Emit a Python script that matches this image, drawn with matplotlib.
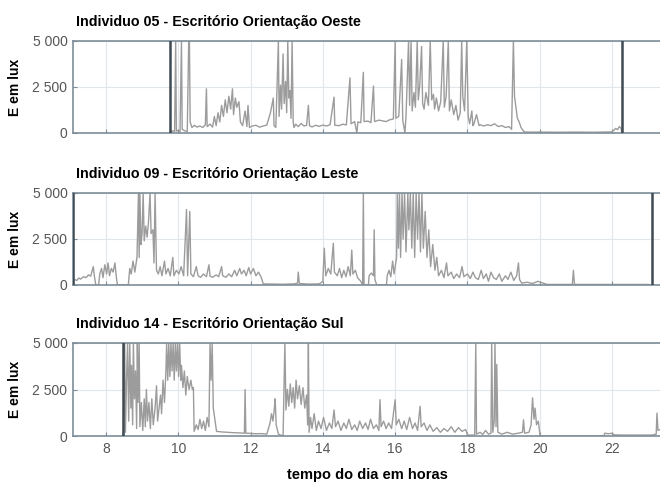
import matplotlib
matplotlib.use("Agg")
import matplotlib.pyplot as plt
from matplotlib.ticker import FuncFormatter

plt.rcParams['font.family'] = ['Liberation Sans', 'DejaVu Sans']

# (hora, lux)
ind05 = [(9.77, 0), (9.80, 60), (9.85, 120), (9.90, 80), (9.93, 5000), (9.95, 100),
         (10.00, 150), (10.05, 60), (10.09, 5000), (10.11, 200), (10.18, 120), (10.25, 80),
         (10.29, 5000), (10.31, 5000), (10.33, 600), (10.38, 300), (10.45, 420), (10.52, 320),
         (10.60, 380), (10.68, 300), (10.75, 450), (10.78, 2400), (10.80, 350), (10.88, 480),
         (10.95, 320), (11.00, 900), (11.05, 400), (11.10, 1100), (11.15, 600), (11.20, 1500),
         (11.25, 900), (11.30, 1800), (11.35, 1100), (11.40, 2000), (11.45, 1300), (11.50, 2400),
         (11.53, 1000), (11.58, 1900), (11.62, 1400), (11.68, 1700), (11.72, 600), (11.78, 400),
         (11.85, 1200), (11.90, 350), (11.93, 1500), (11.97, 300), (12.05, 380), (12.15, 420),
         (12.25, 320), (12.35, 380), (12.45, 430), (12.55, 1100), (12.63, 1900), (12.65, 400),
         (12.70, 300), (12.77, 5000), (12.79, 900), (12.83, 2600), (12.86, 1300), (12.90, 4300),
         (12.93, 1600), (12.97, 2800), (13.00, 1100), (13.03, 5000), (13.06, 1900), (13.09, 2300),
         (13.12, 800), (13.15, 5000), (13.18, 600), (13.20, 300), (13.25, 480), (13.32, 350),
         (13.40, 520), (13.48, 380), (13.55, 420), (13.60, 1500), (13.63, 400), (13.70, 330),
         (13.80, 420), (13.90, 360), (14.00, 430), (14.10, 380), (14.20, 450), (14.31, 1950),
         (14.33, 420), (14.45, 400), (14.55, 480), (14.65, 440), (14.75, 3000), (14.78, 500),
         (14.88, 620), (14.94, 0), (14.97, 600), (15.05, 560), (15.12, 3300), (15.14, 620),
         (15.25, 650), (15.33, 560), (15.40, 2550), (15.43, 620), (15.55, 700), (15.65, 660),
         (15.75, 620), (15.85, 720), (15.95, 760), (16.00, 5000), (16.02, 800), (16.10, 900),
         (16.18, 4000), (16.21, 700), (16.27, 0), (16.30, 900), (16.37, 5000), (16.40, 1500),
         (16.44, 5000), (16.47, 1200), (16.52, 2200), (16.56, 1400), (16.61, 5000), (16.64, 1800),
         (16.68, 2600), (16.73, 4700), (16.76, 1600), (16.80, 1300), (16.85, 2200), (16.92, 1500),
         (16.97, 5000), (17.01, 1800), (17.06, 2100), (17.09, 1300), (17.14, 1900), (17.20, 1200),
         (17.26, 1700), (17.33, 5000), (17.36, 1400), (17.41, 2000), (17.47, 5000), (17.50, 1200),
         (17.55, 1800), (17.62, 1000), (17.68, 1500), (17.74, 700), (17.80, 1100), (17.84, 5000),
         (17.87, 2000), (17.92, 1200), (17.98, 5000), (18.02, 900), (18.06, 500), (18.12, 1200),
         (18.15, 400), (18.18, 500), (18.25, 1000), (18.32, 400), (18.35, 450), (18.45, 380),
         (18.55, 450), (18.65, 400), (18.75, 500), (18.85, 350), (18.95, 400), (19.05, 300),
         (19.15, 350), (19.22, 200), (19.27, 5000), (19.30, 2000), (19.34, 1400), (19.38, 800),
         (19.43, 600), (19.48, 300), (19.55, 100), (19.60, 50), (20.00, 50), (20.50, 40),
         (21.00, 50), (21.50, 40), (22.00, 60), (22.05, 150), (22.10, 250), (22.15, 180),
         (22.20, 350), (22.25, 250), (22.27, 0)]

ind09 = [(7.10, 0), (7.13, 300), (7.20, 250), (7.25, 380), (7.30, 320), (7.38, 450),
         (7.45, 400), (7.52, 550), (7.58, 480), (7.65, 1000), (7.68, 500), (7.72, 0),
         (7.80, 0), (7.83, 600), (7.88, 900), (7.92, 400), (7.97, 1100), (8.02, 600),
         (8.06, 1200), (8.10, 500), (8.15, 900), (8.20, 700), (8.25, 1200), (8.29, 400),
         (8.32, 0), (8.62, 0), (8.66, 900), (8.70, 600), (8.75, 1300), (8.80, 700),
         (8.86, 1500), (8.90, 5000), (8.92, 1500), (8.94, 5000), (8.97, 2200), (9.00, 2800),
         (9.03, 5000), (9.06, 2400), (9.10, 3200), (9.14, 2600), (9.18, 3500), (9.22, 5000),
         (9.25, 2800), (9.30, 3000), (9.33, 1200), (9.36, 5000), (9.40, 800), (9.45, 600),
         (9.50, 1000), (9.55, 500), (9.62, 1300), (9.66, 600), (9.72, 900), (9.78, 500),
         (9.85, 1500), (9.88, 500), (9.95, 800), (10.02, 600), (10.08, 1000), (10.15, 500),
         (10.23, 4100), (10.26, 500), (10.32, 4000), (10.35, 600), (10.42, 450), (10.50, 1000),
         (10.55, 500), (10.62, 420), (10.70, 600), (10.78, 450), (10.85, 1100), (10.88, 480),
         (10.95, 420), (11.05, 550), (11.12, 450), (11.20, 1000), (11.23, 500), (11.32, 420),
         (11.40, 600), (11.48, 450), (11.56, 800), (11.62, 500), (11.70, 900), (11.75, 600),
         (11.82, 800), (11.88, 500), (11.95, 950), (12.00, 600), (12.08, 900), (12.15, 500),
         (12.22, 700), (12.30, 400), (12.35, 60), (12.60, 50), (12.90, 40), (13.20, 60),
         (13.30, 100), (13.32, 700), (13.35, 80), (13.60, 50), (13.90, 60), (14.00, 200),
         (14.04, 2000), (14.08, 500), (14.15, 900), (14.22, 600), (14.29, 2270), (14.32, 700),
         (14.40, 500), (14.46, 900), (14.52, 400), (14.58, 800), (14.64, 450), (14.70, 1000),
         (14.76, 500), (14.80, 1900), (14.83, 600), (14.90, 800), (14.96, 400), (15.05, 200),
         (15.10, 0), (15.12, 5000), (15.14, 0), (15.26, 0), (15.28, 500), (15.34, 650),
         (15.40, 500), (15.42, 3000), (15.44, 300), (15.49, 0), (15.76, 0), (15.78, 500),
         (15.83, 800), (15.88, 450), (15.93, 1300), (15.97, 600), (16.04, 1500), (16.06, 5000),
         (16.09, 2000), (16.12, 5000), (16.15, 1500), (16.19, 5000), (16.22, 2500), (16.26, 5000),
         (16.30, 1800), (16.35, 5000), (16.38, 3000), (16.42, 5000), (16.46, 2000), (16.50, 5000),
         (16.54, 1500), (16.58, 5000), (16.62, 2500), (16.66, 5000), (16.70, 1800), (16.74, 5000),
         (16.78, 2000), (16.83, 4000), (16.88, 1500), (16.93, 3000), (16.98, 1000), (17.04, 2200),
         (17.10, 800), (17.15, 1500), (17.20, 500), (17.28, 800), (17.35, 400), (17.42, 1200),
         (17.46, 500), (17.55, 700), (17.62, 350), (17.70, 600), (17.78, 400), (17.85, 1000),
         (17.90, 450), (18.00, 600), (18.08, 350), (18.15, 700), (18.22, 400), (18.30, 300),
         (18.38, 800), (18.44, 350), (18.52, 600), (18.58, 200), (18.65, 700), (18.72, 400),
         (18.80, 300), (18.88, 600), (18.95, 200), (19.05, 500), (19.12, 300), (19.20, 700),
         (19.28, 250), (19.36, 500), (19.41, 1200), (19.44, 300), (19.50, 100), (19.65, 150),
         (19.80, 80), (19.95, 200), (20.10, 100), (20.20, 30), (20.60, 30), (20.90, 30),
         (20.93, 800), (20.96, 30), (21.50, 30), (22.00, 30), (22.50, 30), (23.00, 30),
         (23.10, 0)]

ind14 = [(8.46, 0), (8.49, 300), (8.52, 5000), (8.54, 200), (8.57, 3000), (8.60, 5000),
         (8.63, 800), (8.66, 5000), (8.69, 1500), (8.71, 3800), (8.74, 600), (8.76, 5000),
         (8.79, 2000), (8.82, 3500), (8.85, 400), (8.87, 5000), (8.89, 1800), (8.92, 5000),
         (8.94, 500), (8.98, 1800), (9.02, 300), (9.06, 2000), (9.09, 500), (9.12, 2500),
         (9.15, 800), (9.19, 1800), (9.23, 400), (9.27, 2000), (9.31, 600), (9.36, 1500),
         (9.40, 2700), (9.43, 800), (9.47, 1500), (9.51, 2200), (9.54, 1200), (9.58, 3000),
         (9.62, 1800), (9.66, 3500), (9.68, 5000), (9.71, 3000), (9.74, 5000), (9.77, 3200),
         (9.80, 5000), (9.83, 3500), (9.86, 5000), (9.89, 3000), (9.92, 5000), (9.95, 3500),
         (9.98, 5000), (10.01, 3200), (10.04, 5000), (10.07, 3000), (10.09, 3800), (10.13, 2600),
         (10.17, 3500), (10.21, 2200), (10.25, 3200), (10.30, 2500), (10.35, 3000), (10.39, 2500),
         (10.42, 2600), (10.44, 250), (10.50, 600), (10.55, 350), (10.60, 900), (10.65, 400),
         (10.70, 800), (10.75, 300), (10.80, 1000), (10.85, 500), (10.88, 5000), (10.91, 3000),
         (10.94, 5000), (10.97, 1500), (11.06, 250), (11.20, 220), (11.35, 200), (11.50, 180),
         (11.65, 170), (11.83, 150), (11.85, 2500), (11.87, 150), (12.00, 140), (12.15, 120),
         (12.30, 130), (12.45, 100), (12.54, 700), (12.58, 1200), (12.62, 800), (12.66, 1500),
         (12.68, 2000), (12.71, 600), (12.77, 100), (12.90, 0), (12.95, 5000), (12.98, 1400),
         (13.02, 2500), (13.06, 1600), (13.10, 2800), (13.14, 1800), (13.18, 2600), (13.22, 1500),
         (13.26, 3000), (13.30, 2000), (13.35, 2700), (13.40, 1700), (13.45, 2600), (13.50, 1500),
         (13.55, 2200), (13.58, 600), (13.60, 5000), (13.62, 200), (13.66, 1000), (13.70, 400),
         (13.76, 1200), (13.82, 300), (13.88, 800), (13.95, 400), (14.02, 1000), (14.10, 300),
         (14.18, 700), (14.25, 400), (14.31, 1400), (14.35, 500), (14.42, 800), (14.50, 300),
         (14.58, 700), (14.65, 400), (14.72, 900), (14.80, 350), (14.88, 600), (14.95, 300),
         (15.02, 800), (15.10, 400), (15.18, 700), (15.25, 350), (15.32, 900), (15.40, 400),
         (15.48, 600), (15.55, 300), (15.58, 1950), (15.61, 500), (15.68, 800), (15.75, 400),
         (15.82, 700), (15.90, 400), (16.00, 1950), (16.03, 600), (16.10, 900), (16.18, 400),
         (16.25, 800), (16.32, 350), (16.40, 1000), (16.48, 400), (16.55, 700), (16.62, 300),
         (16.69, 1600), (16.72, 500), (16.80, 700), (16.88, 300), (16.96, 600), (17.05, 250),
         (17.15, 450), (17.25, 200), (17.35, 400), (17.45, 250), (17.55, 500), (17.65, 200),
         (17.75, 450), (17.85, 250), (17.95, 350), (18.00, 50), (18.20, 50), (18.23, 5000),
         (18.25, 100), (18.35, 200), (18.42, 80), (18.50, 300), (18.58, 100), (18.65, 150),
         (18.67, 5000), (18.70, 200), (18.74, 800), (18.76, 5000), (18.79, 500), (18.81, 3850),
         (18.84, 200), (18.95, 100), (19.10, 200), (19.25, 100), (19.40, 150), (19.52, 200),
         (19.55, 870), (19.58, 150), (19.70, 200), (19.76, 600), (19.80, 2050), (19.84, 900),
         (19.87, 1500), (19.91, 600), (19.96, 800), (20.01, 0), (21.77, 0), (21.80, 150),
         (21.90, 120), (22.00, 150), (22.06, 60), (22.40, 50), (22.80, 50), (23.10, 50),
         (23.22, 100), (23.24, 1230), (23.27, 300), (23.38, 400)]

# inicio / fim das medicoes (linhas escuras)
marks05 = [9.77, 22.27]
marks09 = [7.10, 23.10]
marks14 = [8.47]

titles = ["Individuo 05 - Escritório Orientação Oeste",
          "Individuo 09 - Escritório Orientação Leste",
          "Individuo 14 - Escritório Orientação Sul"]
yticks = [0, 2500, 5000]
xticks = [8, 10, 12, 14, 16, 18, 20, 22]

fig = plt.figure(figsize=(6.6, 4.82), dpi=100)
W, H = 660.0, 482.0
tops = [41, 193, 343]
bottoms = [133, 285, 436]
series = [ind05, ind09, ind14]
marks = [marks05, marks09, marks14]

spine_c = '#7d8d99'
grid_c = '#dfe6ec'
line_c = '#9c9c9c'


def fmt(v, pos):
    return '{:,}'.format(int(v)).replace(',', ' ')


for i in range(3):
    ax = fig.add_axes([73 / W, 1 - bottoms[i] / H, (662 - 73) / W, (bottoms[i] - tops[i]) / H])
    h, lux = zip(*series[i])
    ax.plot(h, lux, color=line_c, lw=1.0, zorder=2)
    for m in marks[i]:
        ax.axvline(m, color='#3f4a52', lw=1.8, zorder=3)
    ax.set_xlim(7.09, 23.38)
    ax.set_ylim(0, 5000)
    ax.set_yticks(yticks)
    ax.set_xticks(xticks)
    ax.yaxis.set_major_formatter(FuncFormatter(fmt))
    ax.grid(True, color=grid_c, lw=0.8, zorder=0)
    ax.tick_params(direction='in', length=3, color=spine_c, labelsize=10,
                   labelcolor='#555555', pad=4)
    for s in ax.spines.values():
        s.set_color(spine_c)
        s.set_linewidth(1.2)
    ax.set_ylabel('E em lux', fontsize=10, fontweight='bold')
    ax.yaxis.set_label_coords(-51 / 589.0, 0.5)
    if i < 2:
        ax.tick_params(labelbottom=False)
    else:
        ax.set_xlabel('tempo do dia em horas', fontsize=10.5, fontweight='bold', labelpad=9)
    fig.text(76 / W, 1 - (tops[i] - 19) / H, titles[i], fontsize=10.3, fontweight='bold',
             ha='left', va='center')

fig.savefig('out.png', dpi=100)
